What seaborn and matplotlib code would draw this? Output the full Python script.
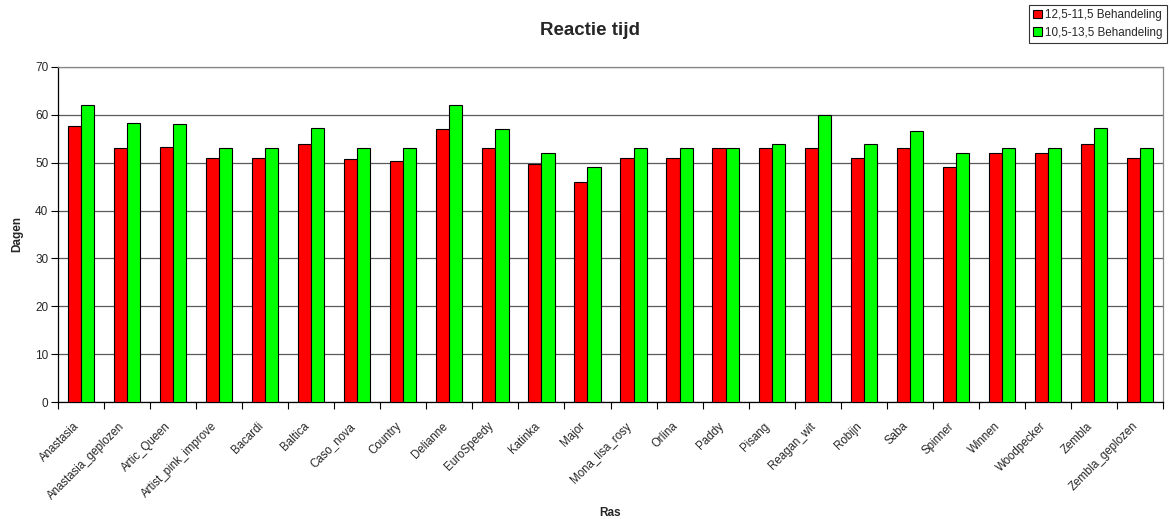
import matplotlib
matplotlib.use("Agg")
import matplotlib.pyplot as plt
import matplotlib.transforms as mtransforms
import seaborn as sns
import pandas as pd
import numpy as np

# Varieties (Ras) and reaction time in days per treatment
rassen = ["Anastasia", "Anastasia_geplozen", "Artic_Queen", "Artist_pink_improve",
          "Bacardi", "Baltica", "Caso_nova", "Country", "Delianne", "EuroSpeedy",
          "Katinka", "Major", "Mona_lisa_rosy", "Orlina", "Paddy", "Pisang",
          "Reagan_wit", "Robijn", "Saba", "Spinner", "Winnen", "Woodpecker",
          "Zembla", "Zembla_geplozen"]
behandeling_a = [57.6, 53, 53.3, 51, 51, 54, 50.7, 50.3, 57, 53,
                 49.7, 46, 51, 51, 53, 53, 53, 51, 53, 49, 52, 52, 54, 51]
behandeling_b = [62, 58.3, 58, 53, 53, 57.3, 53, 53, 62, 57,
                 52, 49, 53, 53, 53, 54, 60, 54, 56.6, 52, 53, 53, 57.3, 53]
reeksen = ["12,5-11,5 Behandeling", "10,5-13,5 Behandeling"]
kleuren = ["#FF0000", "#00FF00"]
y_ticks = [0, 10, 20, 30, 40, 50, 60, 70]

df = pd.DataFrame({
    "Ras": rassen * 2,
    "Dagen": behandeling_a + behandeling_b,
    "Reeks": [reeksen[0]] * len(rassen) + [reeksen[1]] * len(rassen),
})

sns.set_style("white")
plt.rcParams["font.family"] = ["Liberation Sans", "DejaVu Sans"]

fig = plt.figure(figsize=(11.71, 5.19), dpi=100)
ax = fig.add_axes([0.0495, 0.2254, 0.9437, 0.6456])

sns.barplot(data=df, x="Ras", y="Dagen", hue="Reeks", palette=kleuren,
            width=0.57, edgecolor="black", linewidth=0.8, saturation=1,
            gap=0, ax=ax, legend=True, zorder=3)

ax.set_ylim(0, 70)
ax.set_xlim(-0.5, len(rassen) - 0.5)
ax.set_yticks(y_ticks)
ax.set_yticklabels([str(t) for t in y_ticks], fontsize=8.5)
ax.yaxis.grid(True, color="#5a5a5a", linewidth=0.9, zorder=0)
ax.set_axisbelow(True)

# category labels at centers, tick marks at category boundaries
ax.set_xticks(np.arange(len(rassen)))
ax.set_xticklabels(rassen, rotation=45, ha="right", rotation_mode="anchor",
                   fontsize=8.3)
ax.tick_params(axis="x", which="major", length=0, pad=8)
shift = mtransforms.ScaledTranslation(-8 / 100, -7 / 100, fig.dpi_scale_trans)
for lbl in ax.get_xticklabels():
    lbl.set_transform(lbl.get_transform() + shift)
ax.set_xticks(np.arange(len(rassen) + 1) - 0.5, minor=True)
ax.tick_params(axis="x", which="minor", length=5, width=0.8, color="black",
               direction="out", bottom=True)
ax.tick_params(axis="y", which="major", length=5, width=0.8, color="black",
               direction="out", left=True, pad=2)

for side in ["left", "bottom"]:
    ax.spines[side].set_color("black")
    ax.spines[side].set_linewidth(0.9)
for side in ["top", "right"]:
    ax.spines[side].set_visible(True)
    ax.spines[side].set_color("#888888")
    ax.spines[side].set_linewidth(0.9)

ax.set_xlabel("Ras", fontsize=8.5, fontweight="bold", va="center")
ax.xaxis.set_label_coords(0.5, -0.33)
ax.set_ylabel("Dagen", fontsize=8.5, fontweight="bold", va="center")
ax.yaxis.set_label_coords(-0.037, 0.5)

fig.text(0.504, 0.942, "Reactie tijd", ha="center", va="center",
         fontsize=13.5, fontweight="bold")

handles, labels = ax.get_legend_handles_labels()
ax.legend_.remove()
leg = fig.legend(handles, labels, loc="upper right",
                 bbox_to_anchor=(0.9966, 0.99), fontsize=8.4, frameon=True,
                 fancybox=False, edgecolor="black", handlelength=0.75,
                 handleheight=0.75, handletextpad=0.3, borderpad=0.35,
                 labelspacing=0.45, borderaxespad=0)
leg.get_frame().set_linewidth(0.8)

fig.savefig("out.png", dpi=100)
